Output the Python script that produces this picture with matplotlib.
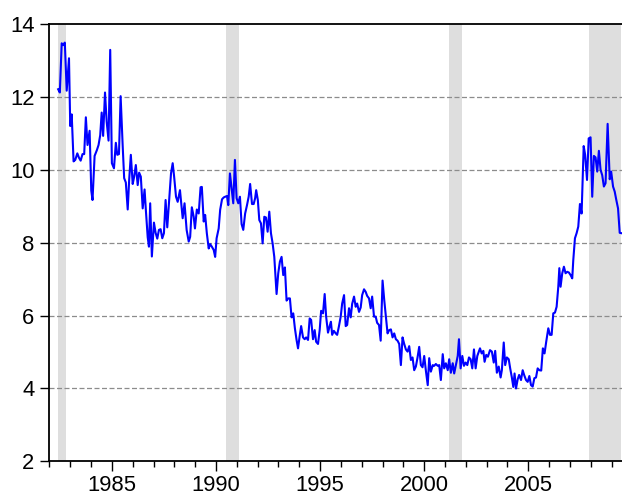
import numpy as np
import matplotlib
matplotlib.use("Agg")
import matplotlib.pyplot as plt
from matplotlib.ticker import MultipleLocator

plt.rcParams['font.family'] = ['Liberation Sans', 'DejaVu Sans']

# monthly series (decimal year, percent)
dates = [
    1982.42, 1982.50, 1982.59, 1982.66, 1982.74, 1982.83, 1982.94,
    1983.00, 1983.07, 1983.16, 1983.24, 1983.34, 1983.42, 1983.50, 1983.59, 1983.67, 1983.75, 1983.83, 1983.93,
    1984.01, 1984.07, 1984.17, 1984.28, 1984.36, 1984.44, 1984.51, 1984.58, 1984.67, 1984.75, 1984.84, 1984.92,
    1985.00, 1985.10, 1985.19, 1985.26, 1985.34, 1985.42, 1985.52, 1985.59, 1985.67, 1985.76, 1985.83, 1985.91,
    1986.00, 1986.07, 1986.15, 1986.24, 1986.31, 1986.39, 1986.48, 1986.57, 1986.63, 1986.72, 1986.78, 1986.84, 1986.92,
    1987.02, 1987.10, 1987.18, 1987.26, 1987.34, 1987.42, 1987.50, 1987.58, 1987.66, 1987.75, 1987.84, 1987.92,
    1987.99, 1988.08, 1988.16, 1988.27, 1988.40, 1988.49, 1988.59, 1988.69, 1988.76, 1988.84, 1988.93, 1988.99,
    1989.08, 1989.17, 1989.26, 1989.32, 1989.41, 1989.48, 1989.56, 1989.65, 1989.72, 1989.80, 1989.89, 1989.96,
    1990.03, 1990.13, 1990.20, 1990.29, 1990.37, 1990.44, 1990.53, 1990.59, 1990.67, 1990.75, 1990.83, 1990.91,
    1990.99, 1991.07, 1991.15, 1991.23, 1991.31, 1991.40, 1991.49, 1991.57, 1991.64, 1991.73, 1991.81, 1991.88, 1991.93,
    1992.01, 1992.08, 1992.16, 1992.24, 1992.32, 1992.40, 1992.48, 1992.56, 1992.64, 1992.72, 1992.80, 1992.91,
    1992.99, 1993.07, 1993.15, 1993.23, 1993.31, 1993.39, 1993.47, 1993.55, 1993.63, 1993.71, 1993.79, 1993.87, 1993.94,
    1994.02, 1994.09, 1994.18, 1994.26, 1994.33, 1994.42, 1994.50, 1994.57, 1994.66, 1994.74, 1994.81, 1994.90, 1994.98,
    1995.05, 1995.14, 1995.22, 1995.29, 1995.38, 1995.46, 1995.52, 1995.58, 1995.66, 1995.75, 1995.82, 1995.90, 1995.99,
    1996.06, 1996.15, 1996.23, 1996.30, 1996.39, 1996.47, 1996.54, 1996.63, 1996.71, 1996.78, 1996.87, 1996.95,
    1997.02, 1997.11, 1997.19, 1997.26, 1997.35, 1997.43, 1997.50, 1997.59, 1997.67, 1997.74, 1997.83, 1997.91,
    1998.00, 1998.08, 1998.16, 1998.24, 1998.32, 1998.40, 1998.48, 1998.56, 1998.64, 1998.72, 1998.80, 1998.88, 1998.96,
    1999.04, 1999.12, 1999.20, 1999.28, 1999.36, 1999.44, 1999.52, 1999.60, 1999.68, 1999.76, 1999.84, 1999.92,
    2000.00, 2000.08, 2000.17, 2000.24, 2000.32, 2000.41, 2000.48, 2000.56, 2000.65, 2000.72, 2000.80, 2000.89, 2000.96,
    2001.04, 2001.13, 2001.20, 2001.28, 2001.37, 2001.44, 2001.52, 2001.61, 2001.67, 2001.75, 2001.83, 2001.91,
    2001.99, 2002.07, 2002.15, 2002.23, 2002.31, 2002.39, 2002.47, 2002.55, 2002.68, 2002.76, 2002.84, 2002.90, 2002.98,
    2003.06, 2003.16, 2003.25, 2003.34, 2003.41, 2003.49, 2003.58, 2003.67, 2003.73, 2003.82, 2003.89, 2003.97,
    2004.06, 2004.13, 2004.21, 2004.28, 2004.34, 2004.41, 2004.49, 2004.56, 2004.65, 2004.73, 2004.80, 2004.89, 2004.97,
    2005.05, 2005.13, 2005.21, 2005.29, 2005.37, 2005.45, 2005.53, 2005.62, 2005.70, 2005.78, 2005.86, 2005.96,
    2006.04, 2006.12, 2006.20, 2006.28, 2006.36, 2006.44, 2006.49, 2006.55, 2006.63, 2006.71, 2006.79, 2006.87, 2006.95,
    2007.03, 2007.11, 2007.16, 2007.24, 2007.32, 2007.40, 2007.48, 2007.56, 2007.66, 2007.73, 2007.82, 2007.90, 2007.99,
    2008.07, 2008.15, 2008.23, 2008.31, 2008.39, 2008.47, 2008.55, 2008.63, 2008.71, 2008.81, 2008.91, 2008.98,
    2009.07, 2009.15, 2009.22, 2009.31, 2009.39, 2009.47,
]
rate = [
    12.21, 12.12, 13.47, 13.42, 13.49, 12.17, 13.06,
    11.20, 11.52, 10.23, 10.27, 10.45, 10.33, 10.25, 10.43, 10.43, 11.44, 10.68, 11.07,
    9.43, 9.17, 10.38, 10.54, 10.68, 10.95, 11.57, 10.93, 12.12, 11.32, 10.80, 13.29,
    10.18, 10.04, 10.74, 10.41, 10.43, 12.02, 10.64, 9.77, 9.65, 8.91, 9.72, 10.41,
    9.61, 9.81, 10.13, 9.58, 9.92, 9.81, 8.94, 9.46, 8.91, 8.15, 7.89, 9.08, 7.62,
    8.55, 8.27, 8.11, 8.35, 8.37, 8.12, 8.26, 9.17, 8.42, 9.17, 9.90, 10.18,
    9.81, 9.26, 9.12, 9.44, 8.67, 9.08, 8.35, 8.03, 8.16, 8.97, 8.71, 8.39,
    8.91, 8.80, 9.52, 9.53, 8.58, 8.76, 8.26, 7.84, 7.96, 7.89, 7.80, 7.61,
    8.12, 8.39, 8.90, 9.19, 9.24, 9.26, 9.28, 9.03, 9.90, 9.49, 9.08, 10.27,
    9.22, 9.08, 9.26, 8.51, 8.35, 8.80, 9.03, 9.26, 9.61, 9.06, 9.06, 9.22, 9.44,
    9.17, 8.62, 8.53, 7.98, 8.71, 8.69, 8.30, 8.85, 8.26, 7.98, 7.61, 6.59,
    7.16, 7.48, 7.61, 7.11, 7.32, 6.41, 6.47, 6.47, 5.95, 6.06, 5.65, 5.33, 5.10,
    5.44, 5.71, 5.40, 5.35, 5.40, 5.33, 5.92, 5.88, 5.35, 5.60, 5.28, 5.22, 5.60,
    6.13, 6.06, 6.59, 5.97, 5.53, 5.71, 5.83, 5.47, 5.58, 5.51, 5.47, 5.69, 5.97,
    6.33, 6.56, 5.71, 5.74, 6.20, 5.95, 6.32, 6.52, 6.24, 6.33, 6.10, 6.22,
    6.56, 6.72, 6.65, 6.54, 6.47, 6.20, 6.52, 5.97, 5.97, 5.80, 5.74, 5.31,
    6.96, 6.43, 5.97, 5.51, 5.60, 5.62, 5.40, 5.51, 5.35, 5.31, 5.22, 4.64, 5.40,
    5.22, 5.07, 5.01, 5.16, 4.78, 4.85, 4.50, 4.60, 4.85, 5.14, 4.64, 4.58,
    4.89, 4.49, 4.09, 4.83, 4.46, 4.64, 4.62, 4.67, 4.62, 4.64, 4.23, 4.94, 4.55,
    4.69, 4.50, 4.80, 4.43, 4.69, 4.41, 4.64, 4.89, 5.35, 4.55, 4.89, 4.62,
    4.71, 4.64, 4.85, 4.80, 4.55, 5.07, 4.55, 4.89, 5.10, 4.96, 5.03, 4.73, 4.92,
    4.87, 5.05, 5.01, 4.71, 5.03, 4.43, 4.60, 4.30, 4.50, 5.26, 4.64, 4.85,
    4.80, 4.55, 4.30, 4.04, 4.41, 4.00, 4.25, 4.37, 4.23, 4.50, 4.37, 4.23, 4.18,
    4.34, 4.09, 4.05, 4.28, 4.30, 4.55, 4.50, 4.49, 5.10, 4.96, 5.28, 5.65,
    5.47, 5.47, 6.06, 6.08, 6.24, 6.79, 7.30, 6.79, 7.16, 7.34, 7.16, 7.20, 7.18,
    7.11, 7.02, 7.52, 8.12, 8.26, 8.44, 9.06, 8.80, 10.65, 10.41, 9.72, 10.86, 10.89,
    9.26, 10.38, 10.34, 9.95, 10.52, 10.00, 9.85, 9.54, 9.63, 11.26, 9.74, 9.95,
    9.54, 9.40, 9.19, 8.94, 8.27, 8.26,
]

# NBER recession shading (start, end)
recessions = [(1982.40, 1982.80), (1990.47, 1991.10), (2001.19, 2001.80), (2007.93, 2009.45)]

fig = plt.figure(figsize=(6.22, 4.96), dpi=100)
ax = fig.add_axes([49 / 622, 34.7 / 496, 573 / 622, 437.3 / 496])

for start, end in recessions:
    ax.axvspan(start, end, color='#dedede', lw=0, zorder=0)

for y in [4, 6, 8, 10, 12]:
    ax.axhline(y, color='#8c8c8c', lw=0.9, ls=(0, (4, 2)), zorder=1)

ax.plot(dates, rate, color='#0000ff', lw=1.5, zorder=3)

ax.set_xlim(1981.98, 2009.50)
ax.set_ylim(2, 14)
ax.xaxis.set_major_locator(MultipleLocator(5))
ax.xaxis.set_minor_locator(MultipleLocator(1))
ax.yaxis.set_major_locator(MultipleLocator(2))
ax.xaxis.set_major_formatter(plt.FuncFormatter(lambda v, p: f'{int(round(v))}'))

ax.tick_params(axis='x', which='major', length=7.2, width=1.0, pad=2.5,
               labelsize=15.8, direction='out')
ax.tick_params(axis='x', which='minor', length=4.3, width=1.0, direction='out')
ax.tick_params(axis='y', length=6.5, width=1.0, pad=4, labelsize=15.8, direction='out')

ax.spines['right'].set_visible(False)
for side in ['left', 'bottom', 'top']:
    ax.spines[side].set_linewidth(1.3)
    ax.spines[side].set_color('black')

fig.savefig('out.png', dpi=100)
